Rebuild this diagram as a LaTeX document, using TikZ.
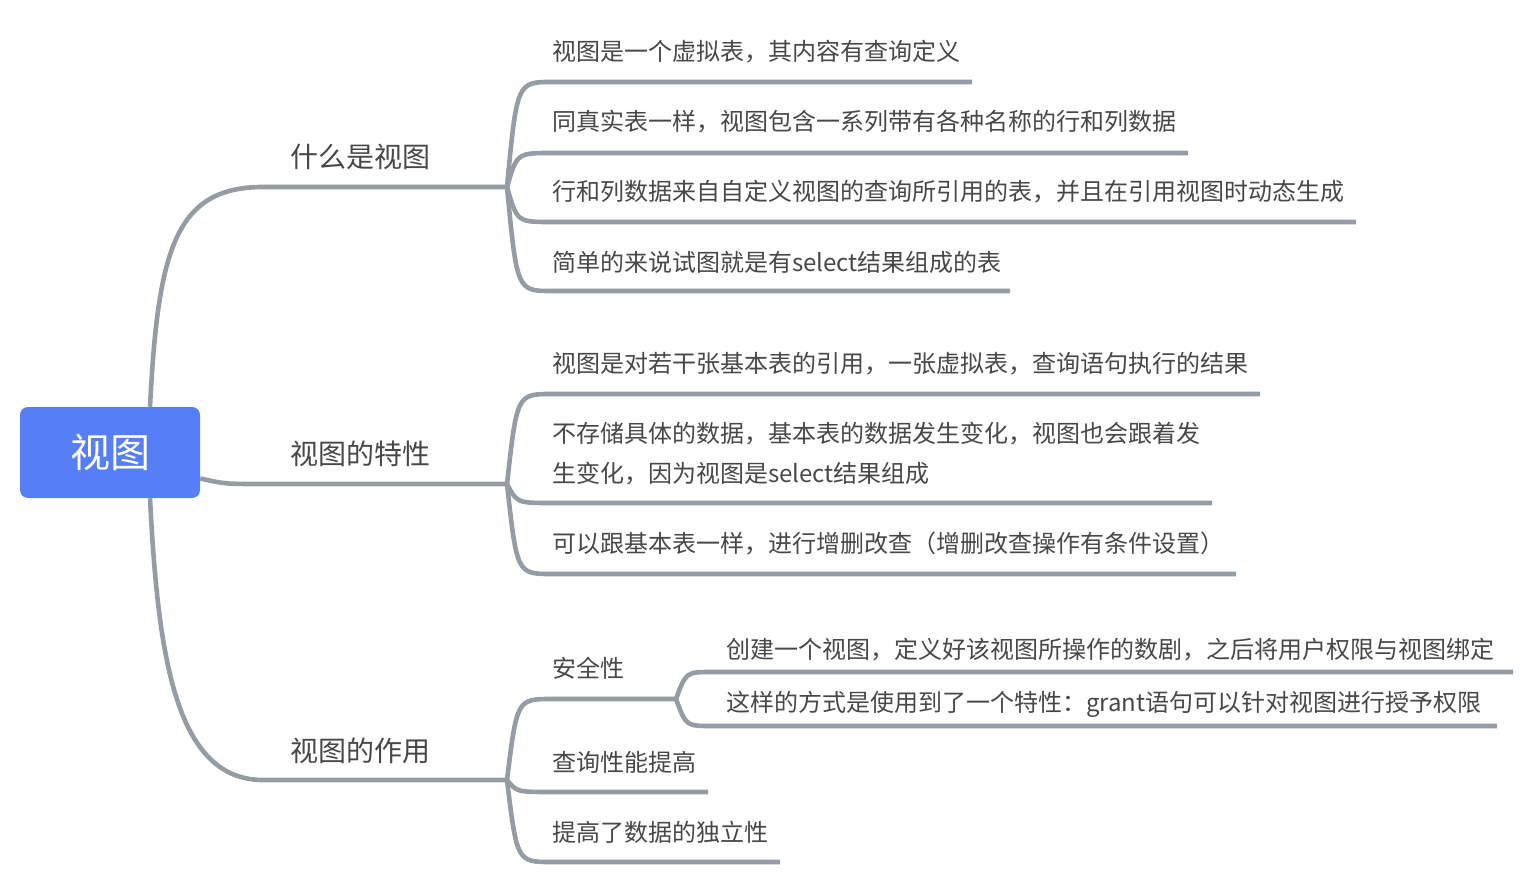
\documentclass[tikz,border=0pt]{standalone}
\usepackage{fontspec}
\setmainfont{Noto Sans CJK SC}
\definecolor{linec}{HTML}{949CA5}
\definecolor{rootc}{HTML}{567EF6}
\definecolor{txtc}{HTML}{474747}
\begin{document}
\begin{tikzpicture}[x=1pt,y=-1pt,
  conn/.style={draw=linec,line width=4.6pt},
  leaf/.style={anchor=west,inner sep=0pt,text=txtc,font=\fontsize{24}{40}\selectfont},
  br/.style={anchor=west,inner sep=0pt,text=txtc,font=\fontsize{28}{34}\selectfont}]
\useasboundingbox (0,0) rectangle (1536,885);

% root
\node[fill=rootc,rounded corners=8pt,minimum width=180pt,minimum height=91pt,
      text=white,font=\fontsize{40}{48}\selectfont,inner sep=0pt] (root) at (110,452.5) {视图};

% branches
\node[br] (b1) at (290,157) {什么是视图};
\node[br] (b2) at (290,454) {视图的特性};
\node[br] (b3) at (290,751) {视图的作用};
\coordinate (j1) at (507,187);
\coordinate (j2) at (507,484);
\coordinate (j3) at (507,780);

\draw[conn] ([xshift=40pt]root.north) .. controls (158,250) and (175,187) .. (263,187) -- (j1);
\draw[conn] ([yshift=-26pt]root.east) .. controls (225,484) .. (262,484) -- (j2);
\draw[conn] ([xshift=40pt]root.south) .. controls (158,655) and (175,780) .. (263,780) -- (j3);

% branch 1 leaves
\node[leaf] (l11) at (552,52) {视图是一个虚拟表，其内容有查询定义};
\node[leaf] (l12) at (552,122) {同真实表一样，视图包含一系列带有各种名称的行和列数据};
\node[leaf] (l13) at (552,192) {行和列数据来自自定义视图的查询所引用的表，并且在引用视图时动态生成};
\node[leaf] (l14) at (552,262) {简单的来说试图就是有select结果组成的表};
\coordinate (e11) at (972,82);
\coordinate (e12) at (1188,153);
\coordinate (e13) at (1356,222);
\coordinate (e14) at (1010,291);
\draw[conn] (j1) .. controls (517,82) and (517,82) .. (552,82) -- (e11);
\draw[conn] (j1) .. controls (517,153) and (517,153) .. (552,153) -- (e12);
\draw[conn] (j1) .. controls (517,222) and (517,222) .. (552,222) -- (e13);
\draw[conn] (j1) .. controls (517,291) and (517,291) .. (552,291) -- (e14);

% branch 2 leaves
\node[leaf] (l21) at (552,364) {视图是对若干张基本表的引用，一张虚拟表，查询语句执行的结果};
\node[leaf,align=left] (l22) at (552,454) {不存储具体的数据，基本表的数据发生变化，视图也会跟着发\\生变化，因为视图是select结果组成};
\node[leaf] (l23) at (552,544) {可以跟基本表一样，进行增删改查（增删改查操作有条件设置）};
\coordinate (e21) at (1260,394);
\coordinate (e22) at (1212,503);
\coordinate (e23) at (1236,574);
\draw[conn] (j2) .. controls (517,394) and (517,394) .. (552,394) -- (e21);
\draw[conn] (j2) .. controls (517,503) and (517,503) .. (552,503) -- (e22);
\draw[conn] (j2) .. controls (517,574) and (517,574) .. (552,574) -- (e23);

% branch 3 leaves
\node[leaf] (l31) at (552,668) {安全性};
\node[leaf] (l32) at (552,762) {查询性能提高};
\node[leaf] (l33) at (552,832) {提高了数据的独立性};
\coordinate (js) at (676,699);
\coordinate (e32) at (708,792);
\coordinate (e33) at (780,862);
\draw[conn] (j3) .. controls (517,699) and (517,699) .. (552,699) -- (js);
\draw[conn] (j3) .. controls (517,792) and (517,792) .. (552,792) -- (e32);
\draw[conn] (j3) .. controls (517,862) and (517,862) .. (552,862) -- (e33);

% security sub leaves
\node[leaf] (s1) at (726,650) {创建一个视图，定义好该视图所操作的数剧，之后将用户权限与视图绑定};
\node[leaf] (s2) at (726,704) {这样的方式是使用到了一个特性：grant语句可以针对视图进行授予权限};
\coordinate (es1) at (1513,672);
\coordinate (es2) at (1497,726);
\draw[conn] (js) .. controls (686,672) and (686,672) .. (712,672) -- (es1);
\draw[conn] (js) .. controls (686,726) and (686,726) .. (712,726) -- (es2);
\end{tikzpicture}
\end{document}
